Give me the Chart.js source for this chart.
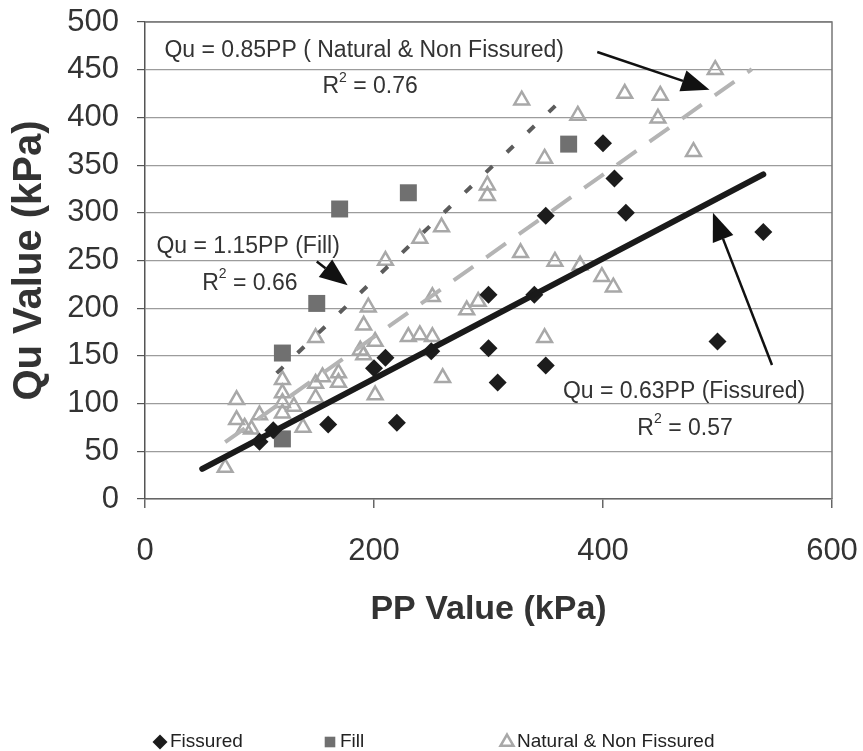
<!DOCTYPE html>
<html>
<head>
<meta charset="utf-8">
<script src="https://cdn.jsdelivr.net/npm/chart.js@4/dist/chart.umd.min.js"></script>
<style>
	html, body { margin: 0; padding: 0; background: #fff; }
	#wrap { width: 863px; height: 751px; position: relative; }
</style>
</head>
<body>
<div id="wrap"><canvas id="ppChart"></canvas></div>
<script>
// values (PP in kPa, Qu in kPa)
const fissuredPP = [100, 112, 160, 220, 200, 210, 250, 300, 300, 308, 340, 350, 350, 400, 410, 420, 500, 540];
const fissuredQu = [60, 72, 78, 80, 137, 148, 155, 214, 158, 122, 214, 140, 297, 373, 336, 300, 165, 280];

const fillPP = [120, 120, 150, 170, 230, 370];
const fillQu = [63, 153, 205, 304, 321, 372];

const naturalPP = [70, 80, 80, 87, 93, 100, 120, 120, 120, 120, 130, 138, 149, 149, 149, 155, 169, 169,
	188, 191, 191, 195, 201, 201, 210, 230, 240, 240, 251, 251, 259, 260, 281, 291, 299, 299,
	328, 329, 349, 349, 358, 378, 380, 399, 409, 419, 448, 450, 479, 498];
const naturalQu = [33, 104, 83, 75, 73, 88, 125, 111, 101, 90, 97, 75, 121, 106, 169, 128, 132, 122,
	156, 151, 182, 201, 165, 109, 250, 170, 172, 273, 170, 212, 285, 127, 198, 207, 329, 318,
	258, 418, 357, 169, 249, 402, 245, 233, 222, 425, 399, 423, 364, 450];

// trend lines (end points)
const fissuredFitPP = [50, 540];
const fissuredFitQu = [31.5, 340.2];
const fillFitPP = [115, 370];
const fillFitQu = [132, 425.5];
const naturalFitPP = [70, 530];
const naturalFitQu = [59.5, 450.5];

const xTicks = [0, 200, 400, 600];
const yTicks = [0, 50, 100, 150, 200, 250, 300, 350, 400, 450, 500];

function toPoints(xs, ys) {
	return xs.map((x, i) => ({ x: x, y: ys[i] }));
}

// equation labels and arrows, in data units
const notes = [
	{ text: "Qu = 0.85PP ( Natural & Non Fissured)", x: 17, y: 470 },
	{ r2: "0.76", x: 155, y: 432 },
	{ text: "Qu = 1.15PP (Fill)", x: 10, y: 264 },
	{ r2: "0.66", x: 50, y: 226 },
	{ text: "Qu = 0.63PP (Fissured)", x: 365, y: 112 },
	{ r2: "0.57", x: 430, y: 74 },
];
const arrows = [
	{ from: [395, 468.5], to: [493, 429] },
	{ from: [150, 249], to: [177, 224] },
	{ from: [547.6, 140.5], to: [496, 300] },
];

const textFont = '23px "Liberation Sans", Arial, sans-serif';

const notesPlugin = {
	id: "notes",
	afterDatasetsDraw(chart) {
		const ctx = chart.ctx;
		const xs = chart.scales.x;
		const ys = chart.scales.y;
		ctx.save();
		ctx.fillStyle = "#333";
		ctx.textBaseline = "middle";
		ctx.textAlign = "left";
		notes.forEach((n) => {
			const px = xs.getPixelForValue(n.x);
			const py = ys.getPixelForValue(n.y);
			ctx.font = textFont;
			if (n.text) {
				ctx.fillText(n.text, px, py);
			} else {
				ctx.fillText("R", px, py);
				let w = ctx.measureText("R").width;
				ctx.font = '14px "Liberation Sans", Arial, sans-serif';
				ctx.fillText("2", px + w, py - 9);
				w += ctx.measureText("2").width;
				ctx.font = textFont;
				ctx.fillText(" = " + n.r2, px + w, py);
			}
		});
		// arrows
		ctx.strokeStyle = "#111";
		ctx.fillStyle = "#111";
		ctx.lineWidth = 2.5;
		arrows.forEach((a) => {
			const x1 = xs.getPixelForValue(a.from[0]);
			const y1 = ys.getPixelForValue(a.from[1]);
			const x2 = xs.getPixelForValue(a.to[0]);
			const y2 = ys.getPixelForValue(a.to[1]);
			const ang = Math.atan2(y2 - y1, x2 - x1);
			const len = 28, half = 11;
			const bx = x2 - Math.cos(ang) * len;
			const by = y2 - Math.sin(ang) * len;
			ctx.beginPath();
			ctx.moveTo(x1, y1);
			ctx.lineTo(bx, by);
			ctx.stroke();
			ctx.beginPath();
			ctx.moveTo(x2, y2);
			ctx.lineTo(bx + Math.sin(ang) * half, by - Math.cos(ang) * half);
			ctx.lineTo(bx - Math.sin(ang) * half, by + Math.cos(ang) * half);
			ctx.closePath();
			ctx.fill();
		});
		ctx.restore();
	},
};

// top and right frame of the plot
const framePlugin = {
	id: "frame",
	beforeDatasetsDraw(chart) {
		const { ctx, chartArea } = chart;
		ctx.save();
		ctx.strokeStyle = "#777";
		ctx.lineWidth = 1.5;
		ctx.beginPath();
		ctx.moveTo(chartArea.left, chartArea.top);
		ctx.lineTo(chartArea.right, chartArea.top);
		ctx.lineTo(chartArea.right, chartArea.bottom);
		ctx.stroke();
		ctx.restore();
	},
};

// legend row at the bottom
const legendX = [160, 330, 507];
const legendPlugin = {
	id: "bottomLegend",
	afterDraw(chart) {
		const ctx = chart.ctx;
		const y = 742;
		ctx.save();
		ctx.font = '19px "Liberation Sans", Arial, sans-serif';
		ctx.textBaseline = "middle";
		ctx.textAlign = "left";
		chart.data.datasets.filter((d) => d.inLegend).forEach((d, i) => {
			const x = legendX[i];
			ctx.fillStyle = d.backgroundColor;
			ctx.strokeStyle = d.borderColor;
			ctx.lineWidth = d.borderWidth || 1;
			Chart.helpers.drawPoint(ctx, {
				pointStyle: d.pointStyle,
				radius: 7.5,
				rotation: 0,
				borderWidth: d.borderWidth,
			}, x, y);
			ctx.fillStyle = "#222";
			ctx.fillText(d.label, x + 10, y);
		});
		ctx.restore();
	},
};

const ctx = document.getElementById("ppChart").getContext("2d");
new Chart(ctx, {
	type: "scatter",
	data: {
		datasets: [
			{
				label: "Fissured fit",
				data: toPoints(fissuredFitPP, fissuredFitQu),
				showLine: true,
				pointRadius: 0,
				borderColor: "#1a1a1a",
				borderWidth: 6,
				borderCapStyle: "round",
				order: 0,
			},
			{
				label: "Fill fit",
				data: toPoints(fillFitPP, fillFitQu),
				showLine: true,
				pointRadius: 0,
				borderColor: "#5c5c5c",
				borderWidth: 4,
				borderDash: [9, 20],
				order: 1,
			},
			{
				label: "Natural fit",
				data: toPoints(naturalFitPP, naturalFitQu),
				showLine: true,
				pointRadius: 0,
				borderColor: "#b4b4b4",
				borderWidth: 4,
				borderDash: [24, 16],
				order: 2,
			},
			{
				label: "Fissured",
				inLegend: true,
				data: toPoints(fissuredPP, fissuredQu),
				pointStyle: "rectRot",
				pointRadius: 9,
				backgroundColor: "#1c1c1c",
				borderColor: "#1c1c1c",
				borderWidth: 0,
				order: 3,
			},
			{
				label: "Fill",
				inLegend: true,
				data: toPoints(fillPP, fillQu),
				pointStyle: "rect",
				pointRadius: 12,
				backgroundColor: "#707070",
				borderColor: "#707070",
				borderWidth: 0,
				order: 4,
			},
			{
				label: "Natural & Non Fissured",
				inLegend: true,
				data: toPoints(naturalPP, naturalQu),
				pointStyle: "triangle",
				pointRadius: 8.5,
				backgroundColor: "rgba(255,255,255,0)",
				borderColor: "#a8a8a8",
				borderWidth: 2.5,
				order: 5,
			},
		],
	},
	options: {
		responsive: true,
		maintainAspectRatio: false,
		animation: false,
		layout: { padding: { left: 0, right: 31, top: 22, bottom: 121 } },
		plugins: {
			legend: { display: false },
			tooltip: { enabled: false },
		},
		scales: {
			x: {
				type: "linear",
				min: 0,
				max: 600,
				afterBuildTicks: (scale) => {
					scale.ticks = xTicks.map((v) => ({ value: v }));
				},
				afterFit: (scale) => {
					scale.height = 131;
					scale.paddingLeft = 0;
					scale.paddingRight = 0;
				},
				ticks: {
					color: "#333",
					padding: 25,
					font: { family: "Liberation Sans", size: 31 },
				},
				grid: {
					drawOnChartArea: false,
					drawTicks: true,
					tickLength: 9,
					tickColor: "#666",
					lineWidth: 1.5,
				},
				border: { color: "#666", width: 1.5 },
				title: {
					display: true,
					text: "PP Value (kPa)",
					color: "#333",
					padding: { top: 0, bottom: 0 },
					font: { family: "Liberation Sans", size: 34, weight: "bold" },
				},
			},
			y: {
				min: 0,
				max: 500,
				afterBuildTicks: (scale) => {
					scale.ticks = yTicks.map((v) => ({ value: v }));
				},
				afterFit: (scale) => {
					scale.width = 145;
					scale.paddingTop = 0;
					scale.paddingBottom = 0;
				},
				ticks: {
					color: "#333",
					padding: 18,
					font: { family: "Liberation Sans", size: 31 },
				},
				grid: {
					color: "#9c9c9c",
					lineWidth: 1.2,
					drawTicks: true,
					tickLength: 8,
					tickColor: "#555",
				},
				border: { color: "#555", width: 1.5 },
				title: {
					display: true,
					text: "Qu Value (kPa)",
					color: "#333",
					padding: { top: 6, bottom: 0 },
					font: { family: "Liberation Sans", size: 40, weight: "bold" },
				},
			},
		},
	},
	plugins: [framePlugin, notesPlugin, legendPlugin],
});
</script>
</body>
</html>
